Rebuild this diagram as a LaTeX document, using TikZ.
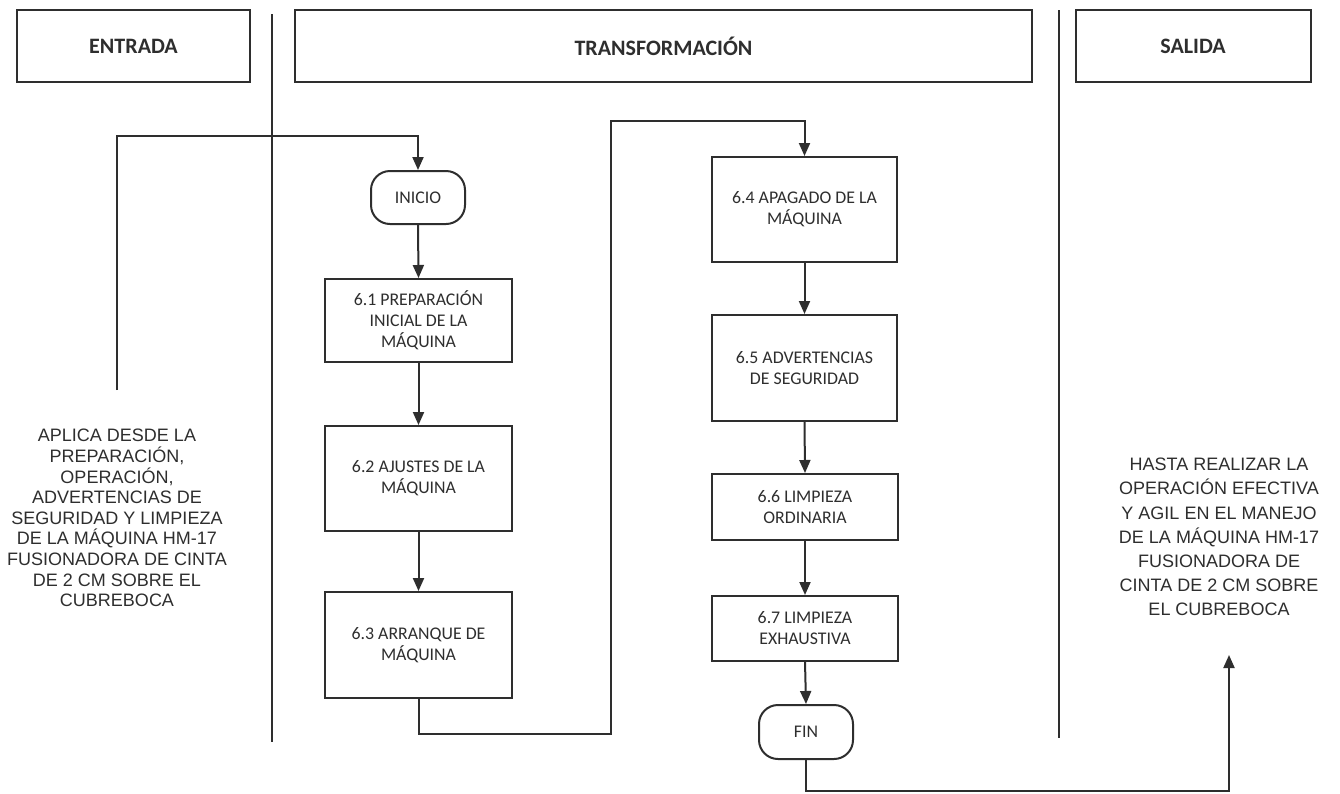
\documentclass[tikz,border=0pt]{standalone}
\usepackage{fontspec}
\setmainfont{Carlito}
\newfontfamily\arialf{Liberation Sans}
\usetikzlibrary{arrows.meta}
\definecolor{ink}{HTML}{2E2E2E}
\tikzset{
  hdr/.style={draw=ink, line width=2pt, inner sep=0pt, text=ink, font=\fontsize{22}{26}\selectfont\bfseries},
  stepbox/.style={draw=ink, line width=2pt, inner sep=0pt, align=center, text=ink, font=\fontsize{17.8}{21}\selectfont},
  term/.style={draw=ink, line width=2pt, inner sep=0pt, rounded corners=19pt, text=ink, font=\fontsize{17.8}{21}\selectfont},
  side/.style={align=center, text=ink, inner sep=0pt},
  conn/.style={draw=ink, line width=2pt},
  arr/.style={conn, -{Triangle[length=13pt,width=11pt,fill=ink]}},
  lane/.style={draw=ink, line width=1.8pt}
}
\begin{document}
\begin{tikzpicture}[x=1pt,y=-1pt]
\useasboundingbox[fill=white] (0,0) rectangle (1340,793);
% headers
\node[hdr, minimum width=233pt, minimum height=72pt] (hin) at (133.5,46) {ENTRADA};
\node[hdr, minimum width=737pt, minimum height=72pt] (htr) at (663.5,46) {TRANSFORMACIÓN};
\node[hdr, minimum width=235pt, minimum height=72pt] (hout) at (1193,46) {SALIDA};
% lane separators
\coordinate (l1t) at (272,14);
\coordinate (l1b) at (272,742);
\coordinate (l2t) at (1059,10);
\coordinate (l2b) at (1059,738);
\draw[lane] (l1t) -- (l1b);
\draw[lane] (l2t) -- (l2b);
% left column
\node[term, minimum width=94pt, minimum height=53pt] (inicio) at (418,197.5) {INICIO};
\node[stepbox, minimum width=187pt, minimum height=83pt] (b1) at (418.5,320.5) {6.1 PREPARACIÓN\\INICIAL DE LA\\MÁQUINA};
\node[stepbox, minimum width=187pt, minimum height=105pt] (b2) at (418.5,478.5) {6.2 AJUSTES DE LA\\MÁQUINA};
\node[stepbox, minimum width=187pt, minimum height=106pt] (b3) at (418.5,645) {6.3 ARRANQUE DE\\MÁQUINA};
% right column
\node[stepbox, minimum width=185pt, minimum height=105pt] (b4) at (804.5,209.5) {6.4 APAGADO DE LA\\MÁQUINA};
\node[stepbox, minimum width=185pt, minimum height=106pt] (b5) at (804.5,368) {6.5 ADVERTENCIAS\\DE SEGURIDAD};
\node[stepbox, minimum width=186pt, minimum height=66pt] (b6) at (805,507) {6.6 LIMPIEZA\\ORDINARIA};
\node[stepbox, minimum width=186pt, minimum height=65pt] (b7) at (805,628.5) {6.7 LIMPIEZA\\EXHAUSTIVA};
\node[term, minimum width=94pt, minimum height=54pt] (fin) at (806,732) {FIN};
% side texts
\node[side, font=\arialf\fontsize{18}{20.6}\selectfont] (intxt) at (117,518) {APLICA DESDE LA\\PREPARACIÓN,\\OPERACIÓN,\\ADVERTENCIAS DE\\SEGURIDAD Y LIMPIEZA\\DE LA MÁQUINA HM-17\\FUSIONADORA DE CINTA\\DE 2 CM SOBRE EL\\CUBREBOCA};
\node[side, font=\arialf\fontsize{18}{24.2}\selectfont] (outtxt) at (1219,537) {HASTA REALIZAR LA\\OPERACIÓN EFECTIVA\\Y AGIL EN EL MANEJO\\DE LA MÁQUINA HM-17\\FUSIONADORA DE\\CINTA DE 2 CM SOBRE\\EL CUBREBOCA};
% connectors
\coordinate (lstart) at (117,390);
\coordinate (ltop) at (117,136);
\draw[arr] (lstart) -- (ltop) -| (inicio.north);
\draw[arr] (inicio.south) -- (b1.north);
\draw[arr] (b1.south) -- (b2.north);
\draw[arr] (b2.south) -- (b3.north);
\coordinate (j1) at (611,734);
\coordinate (j2) at (611,121);
\draw[arr] (b3.south) |- (j1) -- (j2) -| (b4.north);
\draw[arr] (b4.south) -- (b5.north);
\draw[arr] (b5.south) -- (b6.north);
\draw[arr] (b6.south) -- (b7.north);
\draw[arr] (b7.south) -- (fin.north);
\coordinate (j3) at (1229,791);
\coordinate (tip) at (1229,655);
\draw[arr] (fin.south) |- (j3) -- (tip);
\end{tikzpicture}
\end{document}
